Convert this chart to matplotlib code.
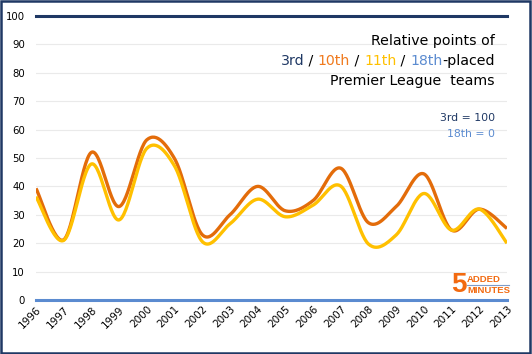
import numpy as np
import matplotlib.pyplot as plt
from matplotlib.patches import Rectangle

# data (relative points, 3rd = 100, 18th = 0)
years = list(range(1996, 2014))
tenth = [39.3, 21.2, 52.0, 32.9, 56.4, 49.8, 23.0, 30.0, 40.0, 31.4,
         35.0, 46.4, 27.2, 32.9, 44.4, 24.6, 32.0, 25.2]
eleventh = [36.4, 21.0, 47.9, 28.2, 53.4, 47.2, 20.6, 26.8, 35.5, 29.3,
            33.4, 40.1, 19.7, 22.9, 37.5, 24.6, 32.0, 20.0]
third_level = 100
eighteenth_level = 0

NAVY = '#1F3864'
ORANGE = '#E36C0A'
TEN_TXT = '#F07A1E'
YELLOW = '#FFC000'
BLUE = '#5B8BD0'
LOGO = '#F26A10'


# smooth curve like excel's "smoothed line" (bezier through the points)
def smooth(xs, ys, n=30):
    xs = np.asarray(xs, float)
    ys = np.asarray(ys, float)
    px = np.concatenate([[xs[0]], xs, [xs[-1]]])
    py = np.concatenate([[ys[0]], ys, [ys[-1]]])
    outx, outy = [], []
    t = np.linspace(0, 1, n)
    for i in range(1, len(px) - 2):
        p0 = np.array([px[i], py[i]])
        p3 = np.array([px[i + 1], py[i + 1]])
        c1 = p0 + (np.array([px[i + 1], py[i + 1]]) - np.array([px[i - 1], py[i - 1]])) / 6
        c2 = p3 - (np.array([px[i + 2], py[i + 2]]) - np.array([px[i], py[i]])) / 6
        b = ((1 - t) ** 3)[:, None] * p0 + (3 * (1 - t) ** 2 * t)[:, None] * c1 \
            + (3 * (1 - t) * t ** 2)[:, None] * c2 + (t ** 3)[:, None] * p3
        outx.extend(b[:, 0])
        outy.extend(b[:, 1])
    return np.array(outx), np.array(outy)


fig = plt.figure(figsize=(5.32, 3.54), dpi=100)
ax = fig.add_axes([36 / 532, 1 - 300 / 354, 471 / 532, 284 / 354])

for s in ax.spines.values():
    s.set_visible(False)

ax.set_xlim(years[0], years[-1])
ax.set_ylim(0, 100)
ax.set_yticks(range(0, 101, 10))
ax.set_xticks(years)
ax.set_xticklabels([str(y) for y in years], rotation=45, ha='right',
                   rotation_mode='anchor', fontsize=7.5, color='black')
ax.tick_params(axis='y', length=0, labelsize=7.3, labelcolor='black', pad=8)
ax.tick_params(axis='x', length=0, pad=3)
ax.grid(axis='y', color='#EAEAEA', lw=0.8)
ax.set_axisbelow(True)

ax.plot([years[0], years[-1]], [third_level] * 2, color=NAVY, lw=2.2, clip_on=False)
ax.plot([years[0], years[-1]], [eighteenth_level] * 2, color=BLUE, lw=2.2, clip_on=False)

sx, sy = smooth(years, tenth)
ax.plot(sx, sy, color=ORANGE, lw=2.4, solid_capstyle='butt')
sx, sy = smooth(years, eleventh)
ax.plot(sx, sy, color=YELLOW, lw=2.4, solid_capstyle='butt')

# title block, right aligned
xr = 495 / 532
fs = 10.2
fig.text(xr, 1 - 41 / 354, 'Relative points of', ha='right', va='center', fontsize=fs,
         color='black')
fig.text(xr, 1 - 81 / 354, 'Premier League  teams', ha='right', va='center', fontsize=fs,
         color='black')

# multicoloured middle line, built from right to left
pieces = [('3rd', NAVY), (' / ', 'black'), ('10th', TEN_TXT), (' / ', 'black'),
          ('11th', YELLOW), (' / ', 'black'), ('18th', BLUE), ('-placed', 'black')]
renderer = fig.canvas.get_renderer()
x = xr
for txt, col in reversed(pieces):
    t = fig.text(x, 1 - 61 / 354, txt, ha='right', va='center', fontsize=fs, color=col)
    w = t.get_window_extent(renderer).width
    x -= w / fig.bbox.width

fig.text(xr, 1 - 118 / 354, '3rd = 100', ha='right', va='center', fontsize=7.8, color=NAVY)
fig.text(xr, 1 - 134 / 354, '18th = 0', ha='right', va='center', fontsize=7.8, color=BLUE)

# logo
fig.text(467 / 532, 1 - 285 / 354, '5', ha='right', va='center', fontsize=20,
         fontweight='heavy', color=LOGO, family='Liberation Sans')
fig.text(467 / 532, 1 - 279.5 / 354, 'ADDED', ha='left', va='center', fontsize=6.8,
         fontweight='bold', color=LOGO, family='Liberation Sans')
fig.text(467 / 532, 1 - 290.5 / 354, 'MINUTES', ha='left', va='center', fontsize=6.8,
         fontweight='bold', color=LOGO, family='Liberation Sans')
fig.add_artist(plt.Line2D([467 / 532, 509 / 532], [1 - 285 / 354] * 2, color='#7F9CC8', lw=0.8))

fig.add_artist(Rectangle((0.002, 0.003), 0.994, 0.994, transform=fig.transFigure,
                         fill=False, edgecolor=NAVY, lw=1.8))

fig.savefig('out.png', dpi=100)
